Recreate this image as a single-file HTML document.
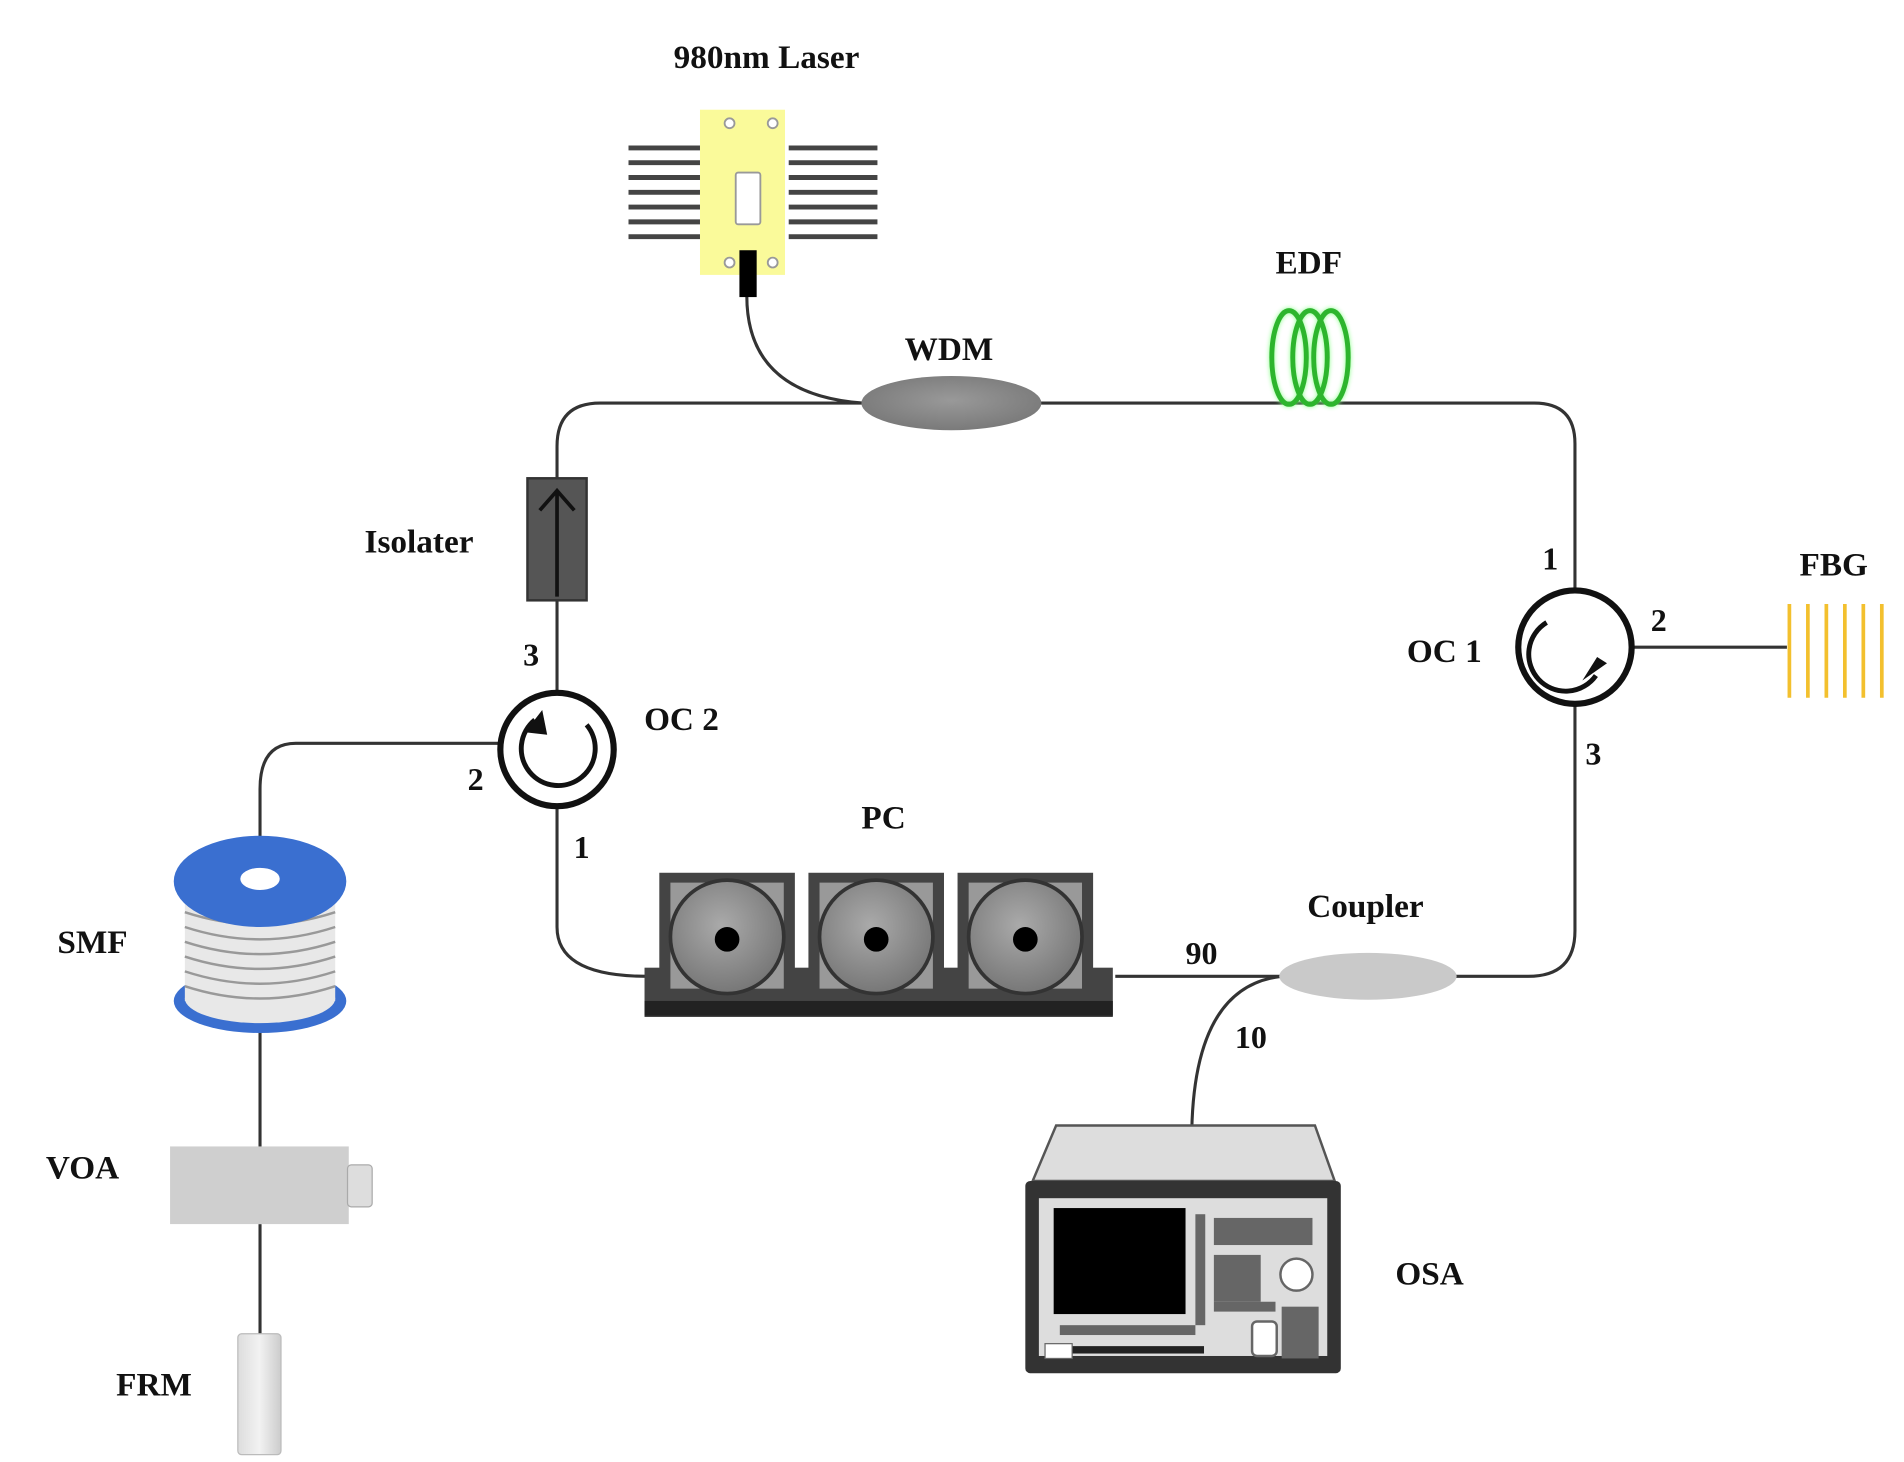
<!DOCTYPE html>
<html><head><meta charset="utf-8"><style>
html,body{margin:0;padding:0;background:#fff;}
svg{display:block;}
text{font-family:"Liberation Serif",serif;font-weight:bold;fill:#111;}
</style></head><body>
<svg width="1904" height="1462" viewBox="0 0 1545 1186" preserveAspectRatio="none" xmlns="http://www.w3.org/2000/svg">
<defs>
<radialGradient id="wdm" cx="50%" cy="45%" r="55%"><stop offset="0" stop-color="#999"/><stop offset="1" stop-color="#7a7a7a"/></radialGradient>
<radialGradient id="pcg" cx="45%" cy="40%" r="60%"><stop offset="0" stop-color="#aaa"/><stop offset="1" stop-color="#777"/></radialGradient>
<linearGradient id="frm" x1="0" x2="1"><stop offset="0" stop-color="#ddd"/><stop offset="0.5" stop-color="#f2f2f2"/><stop offset="1" stop-color="#ccc"/></linearGradient>
</defs>
<g stroke="#333" stroke-width="2.5" fill="none">
<!-- main top fiber -->
<path d="M452,390 L452,362 Q452,327 487,327 L1245,327 Q1278,327 1278,360 L1278,478"/>
<!-- laser fiber -->
<path d="M606,240 Q606,320 700,327"/>
<!-- right side -->
<path d="M1278,572 L1278,755 Q1278,792 1240,792 L905,792"/>
<!-- 10 branch -->
<path d="M1040,792 Q967,800 967,925"/>
<!-- OC2 bottom to PC -->
<path d="M452,655 L452,752 Q452,792 525,792"/>
<!-- OC2 top to isolator -->
<path d="M452,561 L452,487"/>
<!-- OC2 port 2 -->
<path d="M405,603 L240,603 Q211,603 211,640 L211,690"/>
<!-- SMF to VOA to FRM -->
<path d="M211,820 L211,932 M211,993 L211,1082"/>
<!-- OC1 to FBG -->
<path d="M1325,525 L1450,525"/>
</g>
<!-- Laser -->
<text x="622" y="55" font-size="27" text-anchor="middle">980nm Laser</text>
<g stroke="#444" stroke-width="4">
<path d="M510,120H580M510,132H580M510,144H580M510,156H580M510,168H580M510,180H580M510,192H580"/>
<path d="M640,120H712M640,132H712M640,144H712M640,156H712M640,168H712M640,180H712M640,192H712"/>
</g>
<rect x="568" y="89" width="69" height="134" fill="#fafa9a"/>
<g fill="#fff" stroke="#999" stroke-width="1.5">
<circle cx="592" cy="100" r="4"/><circle cx="627" cy="100" r="4"/><circle cx="592" cy="213" r="4"/><circle cx="627" cy="213" r="4"/>
<rect x="597" y="140" width="20" height="42" rx="2"/>
</g>
<rect x="600" y="203" width="14" height="38" fill="#000"/>
<!-- WDM -->
<ellipse cx="772" cy="327" rx="73" ry="22" fill="url(#wdm)"/>
<text x="770" y="292" font-size="27" text-anchor="middle">WDM</text>
<!-- EDF -->
<g fill="none" stroke="#2db52d" stroke-width="4" style="filter:drop-shadow(0 0 2px #8f8)">
<ellipse cx="1046" cy="290" rx="14" ry="38"/><ellipse cx="1063" cy="290" rx="14" ry="38"/><ellipse cx="1080" cy="290" rx="14" ry="38"/>
</g>
<text x="1062" y="222" font-size="27" text-anchor="middle">EDF</text>
<!-- OC1 -->
<circle cx="1278" cy="525" r="46" fill="#fff" stroke="#111" stroke-width="5"/>
<path d="M1255,505 A30,30 0 1 0 1295,548" fill="none" stroke="#111" stroke-width="4"/>
<path d="M1304,538 L1284,552 L1296,533 Z" fill="#111"/>
<text x="1258" y="462" font-size="26" text-anchor="middle">1</text>
<text x="1172" y="537" font-size="27" text-anchor="middle">OC 1</text>
<text x="1346" y="512" font-size="26" text-anchor="middle">2</text>
<text x="1293" y="620" font-size="26" text-anchor="middle">3</text>
<!-- FBG -->
<g stroke="#f3c02e" stroke-width="3">
<path d="M1452,490V566M1467,490V566M1482,490V566M1497,490V566M1512,490V566M1527,490V566"/>
</g>
<text x="1488" y="467" font-size="27" text-anchor="middle">FBG</text>
<!-- Coupler -->
<ellipse cx="1110" cy="792" rx="72" ry="19" fill="#c9c9c9"/>
<text x="1108" y="744" font-size="27" text-anchor="middle">Coupler</text>
<text x="975" y="782" font-size="26" text-anchor="middle">90</text>
<text x="1015" y="850" font-size="26" text-anchor="middle">10</text>
<!-- OSA -->
<path d="M857,913 L1067,913 L1083,958 L838,958 Z" fill="#ddd" stroke="#555" stroke-width="2"/>
<rect x="832" y="958" width="256" height="156" rx="4" fill="#333"/>
<rect x="843" y="972" width="234" height="128" fill="#ddd"/>
<rect x="855" y="980" width="107" height="86" fill="#000"/>
<g fill="#666">
<rect x="970" y="985" width="8" height="90"/>
<rect x="985" y="988" width="80" height="22"/>
<rect x="985" y="1018" width="38" height="38"/>
<rect x="985" y="1056" width="50" height="8"/>
<rect x="1040" y="1060" width="30" height="42"/>
<rect x="860" y="1075" width="110" height="8"/>
<rect x="862" y="1092" width="115" height="6" fill="#222"/>
</g>
<circle cx="1052" cy="1034" r="13" fill="#fff" stroke="#666" stroke-width="2"/>
<rect x="1016" y="1072" width="20" height="28" rx="4" fill="#fff" stroke="#666" stroke-width="2"/>
<rect x="848" y="1090" width="22" height="12" fill="#fff" stroke="#666"/>
<text x="1160" y="1042" font-size="27" text-anchor="middle">OSA</text>
<!-- PC -->
<rect x="523" y="785" width="380" height="40" fill="#444"/>
<rect x="523" y="812" width="380" height="12" fill="#222"/>
<g>
<rect x="535" y="708" width="110" height="100" fill="#444"/>
<rect x="544" y="716" width="92" height="86" fill="#999"/>
<circle cx="590" cy="760" r="46" fill="url(#pcg)" stroke="#333" stroke-width="3"/>
<circle cx="590" cy="762" r="10" fill="#000"/>
<rect x="656" y="708" width="110" height="100" fill="#444"/>
<rect x="665" y="716" width="92" height="86" fill="#999"/>
<circle cx="711" cy="760" r="46" fill="url(#pcg)" stroke="#333" stroke-width="3"/>
<circle cx="711" cy="762" r="10" fill="#000"/>
<rect x="777" y="708" width="110" height="100" fill="#444"/>
<rect x="786" y="716" width="92" height="86" fill="#999"/>
<circle cx="832" cy="760" r="46" fill="url(#pcg)" stroke="#333" stroke-width="3"/>
<circle cx="832" cy="762" r="10" fill="#000"/>
</g>
<text x="717" y="672" font-size="27" text-anchor="middle">PC</text>
<!-- Isolator -->
<rect x="428" y="388" width="48" height="99" fill="#555" stroke="#333" stroke-width="2"/>
<path d="M452,484 V398 M438,414 L452,398 L466,414" fill="none" stroke="#111" stroke-width="3"/>
<text x="340" y="448" font-size="27" text-anchor="middle">Isolater</text>
<!-- OC2 -->
<circle cx="452" cy="608" r="46" fill="#fff" stroke="#111" stroke-width="5"/>
<path d="M434,584 A30,30 0 1 0 476,588" fill="none" stroke="#111" stroke-width="4"/>
<path d="M426,594 L440,576 L444,596 Z" fill="#111"/>
<text x="553" y="592" font-size="27" text-anchor="middle">OC 2</text>
<text x="431" y="540" font-size="26" text-anchor="middle">3</text>
<text x="386" y="641" font-size="26" text-anchor="middle">2</text>
<text x="472" y="696" font-size="26" text-anchor="middle">1</text>
<!-- SMF -->
<ellipse cx="211" cy="812" rx="70" ry="26" fill="#3a6fd0"/>
<rect x="150" y="715" width="122" height="97" fill="#e8e8e8"/>
<ellipse cx="211" cy="810" rx="61" ry="20" fill="#e8e8e8"/>
<g stroke="#999" stroke-width="2" fill="none">
<path d="M150,740 Q211,760 272,740M150,752 Q211,772 272,752M150,764 Q211,784 272,764M150,776 Q211,796 272,776M150,788 Q211,808 272,788M150,800 Q211,820 272,800"/>
</g>
<ellipse cx="211" cy="715" rx="70" ry="37" fill="#3a6fd0"/>
<ellipse cx="211" cy="713" rx="16" ry="9" fill="#fff"/>
<text x="75" y="773" font-size="27" text-anchor="middle">SMF</text>
<!-- VOA -->
<rect x="138" y="930" width="145" height="63" fill="#cfcfcf"/>
<rect x="282" y="945" width="20" height="34" rx="3" fill="#ddd" stroke="#aaa"/>
<text x="67" y="956" font-size="27" text-anchor="middle">VOA</text>
<!-- FRM -->
<rect x="193" y="1082" width="35" height="98" rx="3" fill="url(#frm)" stroke="#bbb"/>
<text x="125" y="1132" font-size="27" text-anchor="middle">FRM</text>
</svg>
</body></html>
